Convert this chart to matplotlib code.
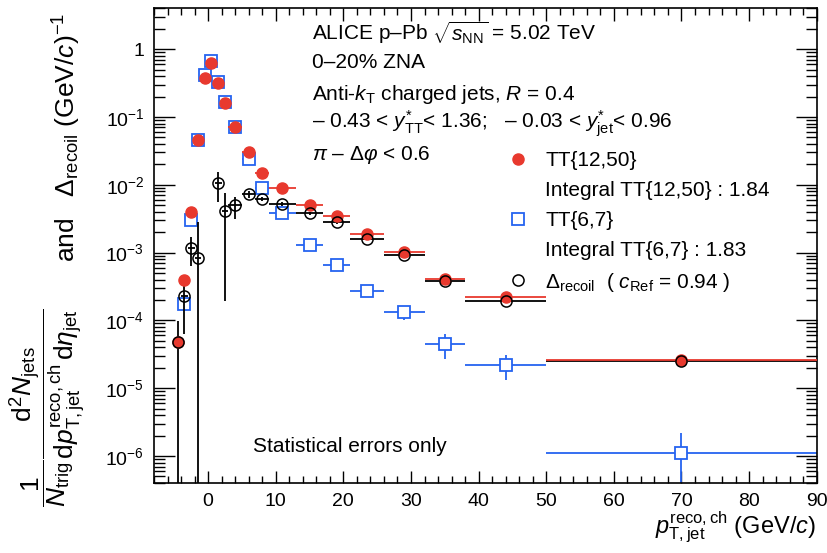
import numpy as np
import matplotlib
matplotlib.use("Agg")
import matplotlib.pyplot as plt
from matplotlib.lines import Line2D
from matplotlib.ticker import LogLocator, MultipleLocator, FixedLocator

plt.rcParams["font.family"] = ["Liberation Sans", "DejaVu Sans"]
plt.rcParams["mathtext.fontset"] = "custom"
plt.rcParams["mathtext.rm"] = "Liberation Sans"
plt.rcParams["mathtext.it"] = "Liberation Sans:italic"
plt.rcParams["mathtext.bf"] = "Liberation Sans:bold"

# bins (centre, half width)
x_c = [-4.5, -3.5, -2.5, -1.5, -0.5, 0.5, 1.5, 2.5, 4, 6, 8, 11, 15, 19, 23.5, 29, 35, 44, 70]
x_w = [0.5, 0.5, 0.5, 0.5, 0.5, 0.5, 0.5, 0.5, 1, 1, 1, 2, 2, 2, 2.5, 3, 3, 6, 20]

# TT{12,50}
tt20 = [4.8e-5, 3.95e-4, 3.94e-3, 0.045, 0.373, 0.63, 0.32, 0.163, 0.0703, 0.030, 0.0147,
        0.0090, 0.0051, 3.5e-3, 1.89e-3, 1.03e-3, 4.1e-4, 2.19e-4, 2.63e-5]
tt20_err = [1e-6, 6e-5, 3e-4, 1.5e-3, 6e-3, 8e-3, 6e-3, 4e-3, 1.5e-3, 8e-4, 4e-4,
            2e-4, 1.2e-4, 8e-5, 5e-5, 3e-5, 1.5e-5, 8e-6, 2e-6]

# TT{6,7}  (no point in first bin)
tt6_x = x_c[1:]
tt6_w = x_w[1:]
tt6 = [1.75e-4, 3.04e-3, 0.045, 0.41, 0.66, 0.33, 0.166, 0.070, 0.024, 0.0091,
       0.00386, 1.31e-3, 6.6e-4, 2.68e-4, 1.34e-4, 4.5e-5, 2.21e-5, 1.1e-6]
tt6_lo = [2e-5, 2e-4, 1.5e-3, 8e-3, 1e-2, 6e-3, 4e-3, 1.5e-3, 6e-4, 2.5e-4,
          1.2e-4, 6e-5, 4e-5, 2.2e-5, 3.4e-5, 1.8e-5, 0.9e-5, 1.1e-6 - 1e-9]
tt6_hi = [2e-5, 2e-4, 1.5e-3, 8e-3, 1e-2, 6e-3, 4e-3, 1.5e-3, 6e-4, 2.5e-4,
          1.2e-4, 6e-5, 4e-5, 2.2e-5, 2.5e-5, 1.8e-5, 0.9e-5, 1.07e-6]

# Delta_recoil (bins -0.5 and 0.5 negative, not shown)
dr_x = [-4.5, -3.5, -2.5, -1.5, 1.5, 2.5, 4, 6, 8, 11, 15, 19, 23.5, 29, 35, 44, 70]
dr_w = [0.5, 0.5, 0.5, 0.5, 0.5, 0.5, 1, 1, 1, 2, 2, 2, 2.5, 3, 3, 6, 20]
dr = [4.8e-5, 2.29e-4, 1.17e-3, 8.2e-4, 0.0106, 4.04e-3, 4.95e-3, 7.2e-3, 6.2e-3,
      5.2e-3, 3.8e-3, 2.8e-3, 1.59e-3, 9.3e-4, 3.77e-4, 1.95e-4, 2.5e-5]
dr_lo = [4.8e-5 - 1e-9, 1.66e-4, 5.3e-4, 8.2e-4 - 1e-9, 5.1e-3, 3.85e-3, 1.8e-3, 8e-4, 5e-4,
         3e-4, 1.8e-4, 1.2e-4, 7e-5, 4e-5, 2e-5, 1e-5, 2e-6]
dr_hi = [5.1e-5, 1.16e-4, 5.1e-4, 2.0e-3, 4.8e-3, 3.4e-3, 1.65e-3, 8e-4, 5e-4,
         3e-4, 1.8e-4, 1.2e-4, 7e-5, 4e-5, 2e-5, 1e-5, 2e-6]

red = "#E8392E"
blue = "#2563F0"

fig = plt.figure(figsize=(8.28, 5.53), dpi=100)
ax = fig.add_axes([0.186, 0.1266, 0.8004, 0.8584])

ax.errorbar(tt6_x, tt6, xerr=tt6_w, yerr=[tt6_lo, tt6_hi], fmt="s", ms=8, mfc="white",
            mec=blue, mew=1.3, color=blue, elinewidth=1.3, capsize=0, zorder=2)
ax.errorbar(dr_x, dr, xerr=dr_w, yerr=[dr_lo, dr_hi], fmt="none",
            color="black", elinewidth=1.3, capsize=0, zorder=3)
ax.errorbar(x_c, tt20, xerr=x_w, yerr=tt20_err, fmt="o", ms=8, mfc=red, mec=red,
            color=red, elinewidth=1.3, capsize=0, zorder=4)
ax.plot(dr_x, dr, ls="none", marker="o", ms=8, mfc="none", mec="black", mew=1.1, zorder=5)

ax.set_yscale("log")
ax.set_xlim(-8, 90)
ax.set_ylim(4e-7, 4)

ax.xaxis.set_major_locator(MultipleLocator(10))
ax.xaxis.set_minor_locator(MultipleLocator(2))
ax.yaxis.set_major_locator(FixedLocator([1e-6, 1e-5, 1e-4, 1e-3, 1e-2, 1e-1, 1]))
ax.yaxis.set_minor_locator(LogLocator(base=10, subs=np.arange(2, 10), numticks=20))
ax.set_yticklabels(["$10^{-6}$", "$10^{-5}$", "$10^{-4}$", "$10^{-3}$", "$10^{-2}$",
                    "$10^{-1}$", "1"])
ax.tick_params(which="both", direction="in", top=True, right=True, labelsize=14)
ax.tick_params(axis="x", which="major", length=9, width=1.0, pad=7)
ax.tick_params(axis="x", which="minor", length=5, width=1.0)
ax.tick_params(axis="y", which="major", length=15, width=1.0, pad=7)
ax.tick_params(axis="y", which="minor", length=8, width=1.0)
for s in ax.spines.values():
    s.set_linewidth(1.2)

# labels
txt = 15
lines = [
    (0.948, r"ALICE p–Pb $\sqrt{s_{\rm NN}}$ = 5.02 TeV"),
    (0.885, "0–20% ZNA"),
    (0.818, r"Anti-$k_{\rm T}$ charged jets, $R$ = 0.4"),
    (0.756, r"– 0.43 < $y^{*}_{\rm TT}$< 1.36;   – 0.03 < $y^{*}_{\rm jet}$< 0.96"),
    (0.691, r"$\pi$ – $\Delta\varphi$ < 0.6"),
]
for yy, s in lines:
    ax.text(0.238, yy, s, transform=ax.transAxes, fontsize=txt, va="center")

handles = [
    Line2D([], [], ls="none", marker="o", ms=8, mfc=red, mec=red),
    Line2D([], [], ls="none", marker="none"),
    Line2D([], [], ls="none", marker="s", ms=8, mfc="white", mec=blue, mew=1.3),
    Line2D([], [], ls="none", marker="none"),
    Line2D([], [], ls="none", marker="o", ms=8, mfc="none", mec="black", mew=1.1),
]
labels = ["TT{12,50}", "Integral TT{12,50} : 1.84", "TT{6,7}",
          "Integral TT{6,7} : 1.83", r"$\Delta_{\rm recoil}$  ( $c_{\rm Ref}$ = 0.94 )"]
ax.legend(handles, labels, loc="upper left", bbox_to_anchor=(0.5336, 0.699),
          frameon=False, fontsize=txt, handlelength=1.0, handletextpad=0.8,
          borderpad=0, borderaxespad=0, labelspacing=0.52)

ax.text(0.149, 0.076, "Statistical errors only", transform=ax.transAxes,
        fontsize=txt, va="center")

fig.text(0.9855, 0.035, r"$p^{\rm reco,ch}_{\rm T,jet}$ (GeV/$c$)", ha="right",
         va="baseline", fontsize=17)
# y label in two pieces (fraction lower, rest upper)
fig.text(0.058, 0.262,
         r"$\dfrac{1}{N_{\rm trig}}\dfrac{{\rm d}^{2}N_{\rm jets}}{{\rm d}p^{\rm reco,ch}_{\rm T,jet}\,{\rm d}\eta_{\rm jet}}$",
         rotation=90, ha="center", va="center", fontsize=19)
fig.text(0.081, 0.752, r"and   $\Delta_{\rm recoil}$ (GeV/$c$)$^{-1}$",
         rotation=90, ha="center", va="center", fontsize=19)

fig.savefig("out.png", dpi=100)
